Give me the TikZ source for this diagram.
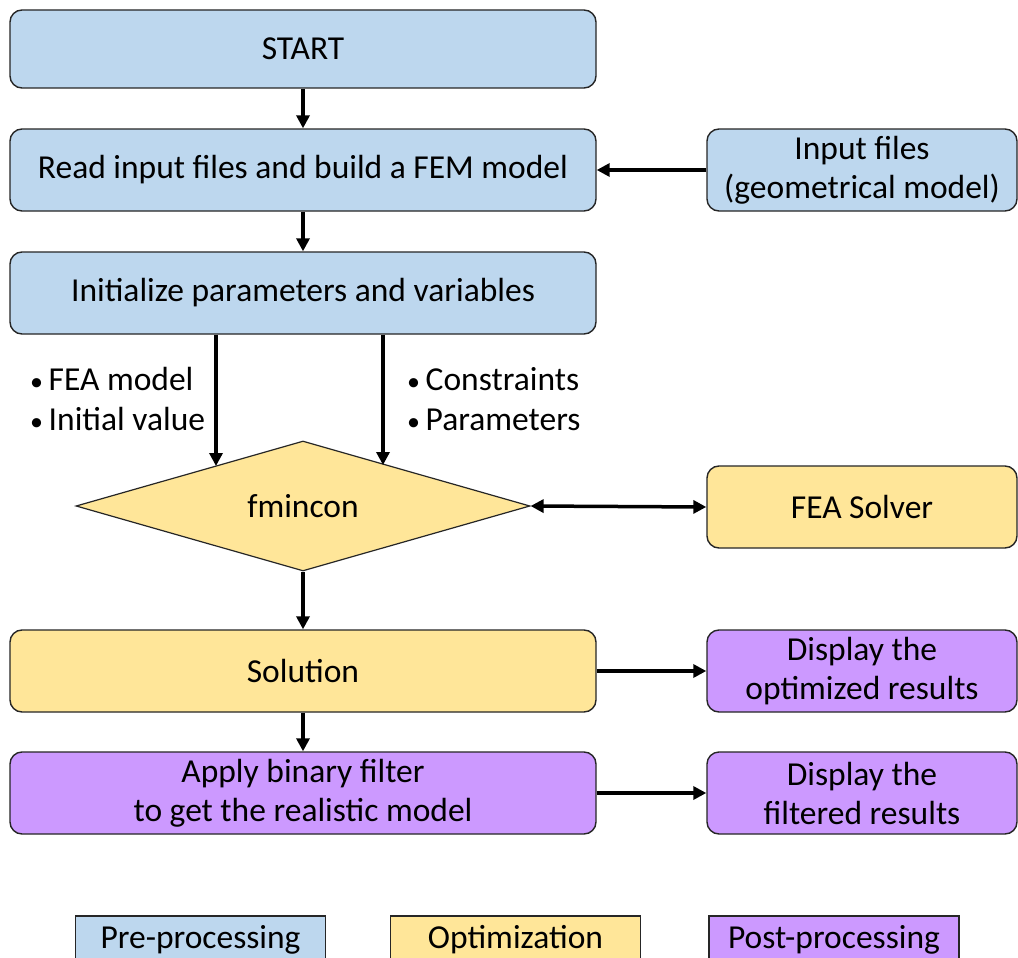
\documentclass[tikz,border=0pt]{standalone}
\usepackage{fontspec}
\setmainfont{Carlito}
\usetikzlibrary{shapes.geometric,arrows.meta,calc}
\definecolor{preblue}{HTML}{BDD7EE}
\definecolor{optyellow}{HTML}{FFE699}
\definecolor{postpurple}{HTML}{CC99FF}
\tikzset{
  box/.style={draw=black!85, line width=1.4pt, rounded corners=12pt, inner sep=0pt,
    minimum height=82pt, align=center, font=\fontsize{33.5}{39}\selectfont},
  mainbox/.style={box, minimum width=586pt},
  sidebox/.style={box, minimum width=310pt},
  legbox/.style={draw=black!85, line width=1.4pt, inner sep=0pt, minimum width=250pt,
    minimum height=48pt, font=\fontsize{33.5}{39}\selectfont},
  arr/.style={line width=3.5pt, -{Triangle[width=13pt,length=13pt]}},
  darr/.style={line width=3.5pt, {Triangle[width=13pt,length=13pt]}-{Triangle[width=13pt,length=13pt]}},
  lbl/.style={align=left, inner sep=0pt, font=\fontsize{33.5}{40}\selectfont}
}
\begin{document}
\begin{tikzpicture}[x=1pt,y=-1pt]
\clip (0,0) rectangle (1018,958);
\fill[white] (0,0) rectangle (1018,958);
\node[mainbox, fill=preblue, minimum height=78pt] (start) at (303,49) {START};
\node[mainbox, fill=preblue] (read) at (303,170) {Read input files and build a FEM model};
\node[sidebox, fill=preblue] (inp) at (862,170) {Input files\\(geometrical model)};
\node[mainbox, fill=preblue] (init) at (303,293) {Initialize parameters and variables};
\node[diamond, draw=black!85, line width=1.2pt, fill=optyellow, aspect=3.49, minimum width=454pt,
  minimum height=130pt, inner sep=0pt, font=\fontsize{33.5}{39}\selectfont] (fm) at (303,506) {fmincon};
\node[sidebox, fill=optyellow] (fea) at (862,507) {FEA Solver};
\node[mainbox, fill=optyellow] (sol) at (303,671) {Solution};
\node[sidebox, fill=postpurple] (dopt) at (862,671) {Display the\\optimized results};
\node[mainbox, fill=postpurple] (bin) at (303,793) {Apply binary filter\\to get the realistic model};
\node[sidebox, fill=postpurple] (dfil) at (862,793) {Display the\\filtered results};
\node[lbl, anchor=west] (l1) at (30,399) {{\fontsize{26}{40}\selectfont\textbullet}\,FEA model\\{\fontsize{26}{40}\selectfont\textbullet}\,Initial value};
\node[lbl, anchor=west] (l2) at (407,399) {{\fontsize{26}{40}\selectfont\textbullet}\,Constraints\\{\fontsize{26}{40}\selectfont\textbullet}\,Parameters};
\node[legbox, fill=preblue] (lg1) at (200.5,940) {Pre-processing};
\node[legbox, fill=optyellow] (lg2) at (515.5,940) {Optimization};
\node[legbox, fill=postpurple] (lg3) at (834,940) {Post-processing};
\coordinate (fa) at (216,466);
\coordinate (fb) at (383,465);
\draw[arr] (start) -- (read);
\draw[arr] (read) -- (init);
\draw[arr] (inp.west) -- (read.east);
\draw[arr] (init.south -| fa) -- (fa);
\draw[arr] (init.south -| fb) -- (fb);
\draw[darr] (fm.east) -- (fea.west);
\draw[arr] (fm.south) -- (sol.north);
\draw[arr] (sol) -- (bin);
\draw[arr] (sol.east) -- (dopt.west);
\draw[arr] (bin.east) -- (dfil.west);
\end{tikzpicture}
\end{document}
